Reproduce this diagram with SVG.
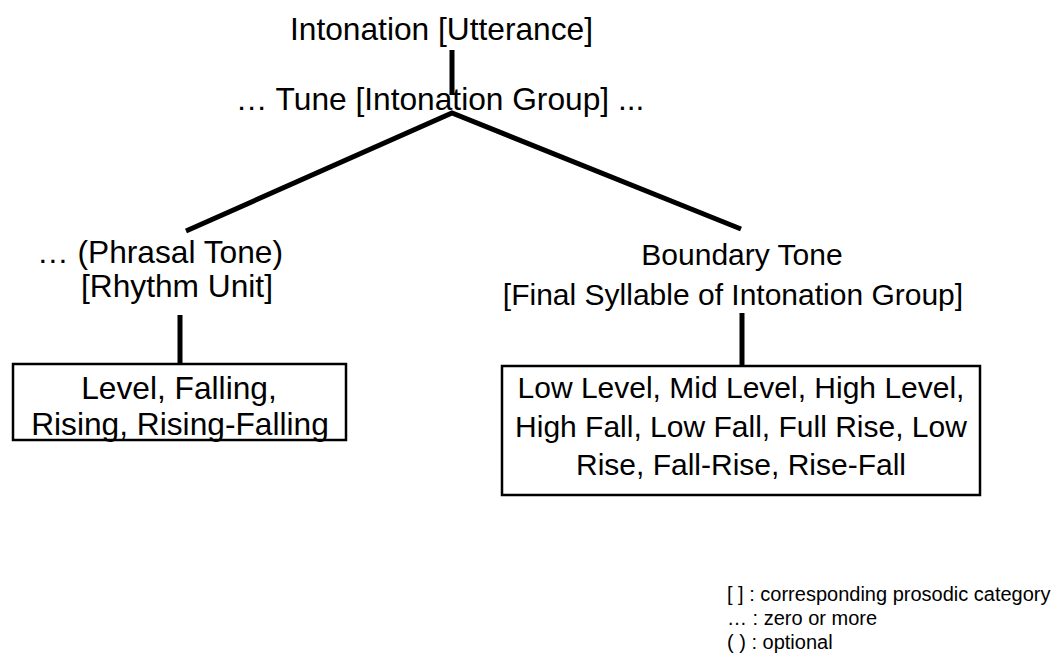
<svg xmlns="http://www.w3.org/2000/svg" width="1062" height="661" viewBox="0 0 1062 661">
  <style>
    .t { font-family: "Liberation Sans", Arial, Helvetica, sans-serif; font-size: 30px; fill: #000; text-anchor: middle; }
    .lg { font-size: 31.7px; }
    .leg { font-family: "Liberation Sans", Arial, Helvetica, sans-serif; font-size: 20px; fill: #000; }
    .edge { stroke: #000; stroke-width: 5; fill: none; }
    .box { stroke: #000; stroke-width: 2.5; fill: #fff; }
  </style>
  <rect width="1062" height="661" fill="#fff"/>
  <g id="connectors">
    <line class="edge" x1="452" y1="50" x2="452" y2="95"/>
    <polyline class="edge" points="186,231 452,113 741,229"/>
    <line class="edge" x1="180" y1="315" x2="180" y2="363"/>
    <line class="edge" x1="742" y1="313" x2="742" y2="366"/>
  </g>
  <g id="utterance">
    <text class="t lg" x="441.5" y="40">Intonation [Utterance]</text>
  </g>
  <g id="tune">
    <text class="t lg" x="440" y="110">… Tune [Intonation Group] ...</text>
  </g>
  <g id="phrasal-tone">
    <text class="t lg" x="160" y="263">… (Phrasal Tone)</text>
    <text class="t lg" x="177" y="297">[Rhythm Unit]</text>
  </g>
  <g id="boundary-tone">
    <text class="t" x="742" y="265">Boundary Tone</text>
    <text class="t" x="733" y="305">[Final Syllable of Intonation Group]</text>
  </g>
  <g id="phrasal-types">
    <rect class="box" x="13" y="364" width="333" height="76"/>
    <text class="t lg" x="179" y="399">Level, Falling,</text>
    <text class="t lg" x="180" y="435">Rising, Rising-Falling</text>
  </g>
  <g id="boundary-types">
    <rect class="box" x="502" y="366" width="478" height="129"/>
    <text class="t" x="741" y="398">Low Level, Mid Level, High Level,</text>
    <text class="t" x="741" y="437">High Fall, Low Fall, Full Rise, Low</text>
    <text class="t" x="741" y="475">Rise, Fall-Rise, Rise-Fall</text>
  </g>
  <g id="legend">
    <text class="leg" x="727" y="601">[ ] : corresponding prosodic category</text>
    <text class="leg" x="727" y="625">… : zero or more</text>
    <text class="leg" x="727" y="649">( ) : optional</text>
  </g>
</svg>
